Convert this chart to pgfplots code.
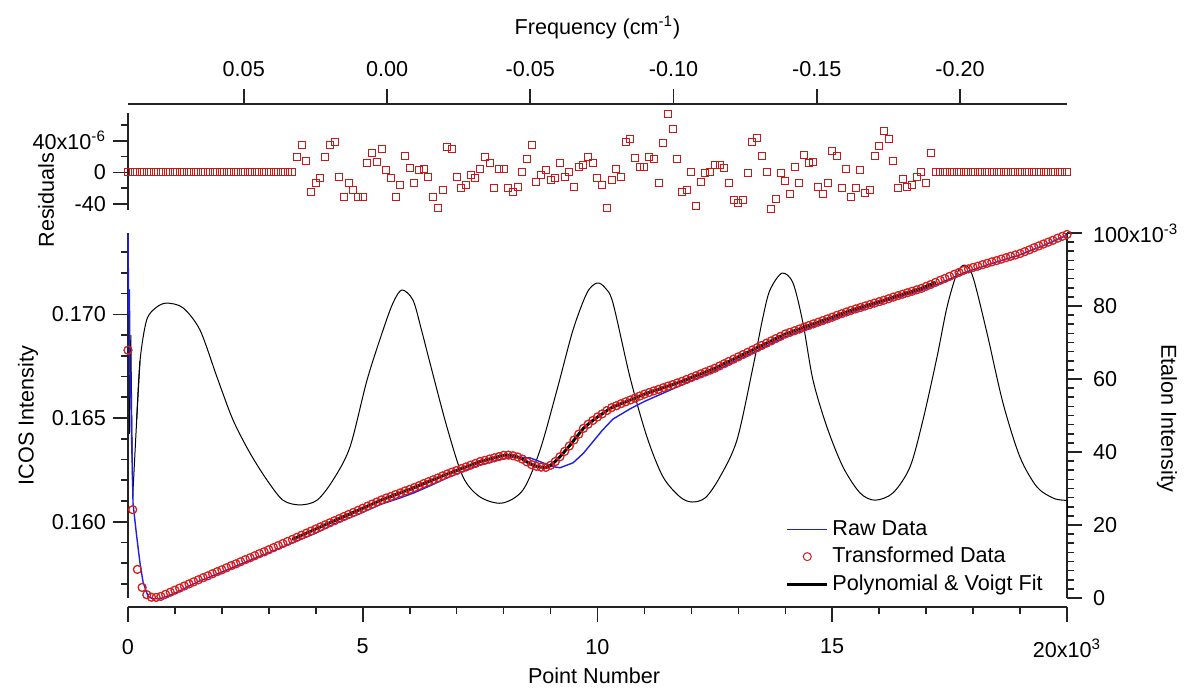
\documentclass[border=0pt]{standalone}
\usepackage{fontspec}
\setmainfont{Liberation Sans}
\usepackage{pgfplots}
\usepackage{pgfplotstable}
\pgfplotsset{compat=1.18}

\definecolor{rawblue}{RGB}{30,30,230}
\definecolor{transred}{RGB}{215,30,30}
\definecolor{resred}{RGB}{200,25,25}
\definecolor{axisgray}{RGB}{35,35,35}

% transformed ICOS data (point number, intensity)
\pgfplotstableread[row sep=\\]{
x y\\
0 0.16827\\ 100 0.16058\\ 200 0.15770\\ 300 0.15683\\ 400 0.15648\\ 500 0.15636\\
600 0.15635\\ 700 0.15640\\ 800 0.15650\\ 900 0.15660\\ 1000 0.15670\\ 1100 0.15680\\
1200 0.15690\\ 1300 0.15700\\ 1400 0.15710\\ 1500 0.15720\\ 1600 0.15730\\ 1700 0.15739\\
1800 0.15749\\ 1900 0.15759\\ 2000 0.15768\\ 2100 0.15778\\ 2200 0.15788\\ 2300 0.15797\\
2400 0.15807\\ 2500 0.15817\\ 2600 0.15826\\ 2700 0.15836\\ 2800 0.15846\\ 2900 0.15855\\
3000 0.15865\\ 3100 0.15875\\ 3200 0.15885\\ 3300 0.15895\\ 3400 0.15905\\ 3500 0.15915\\
3600 0.15925\\ 3700 0.15935\\ 3800 0.15945\\ 3900 0.15955\\ 4000 0.15965\\ 4100 0.15975\\
4200 0.15985\\ 4300 0.15995\\ 4400 0.16005\\ 4500 0.16015\\ 4600 0.16025\\ 4700 0.16035\\
4800 0.16045\\ 4900 0.16055\\ 5000 0.16065\\ 5100 0.16075\\ 5200 0.16085\\ 5300 0.16095\\
5400 0.16105\\ 5500 0.16114\\ 5600 0.16122\\ 5700 0.16131\\ 5800 0.16139\\ 5900 0.16148\\
6000 0.16156\\ 6100 0.16165\\ 6200 0.16174\\ 6300 0.16184\\ 6400 0.16193\\ 6500 0.16202\\
6600 0.16211\\ 6700 0.16221\\ 6800 0.16230\\ 6900 0.16239\\ 7000 0.16247\\ 7100 0.16256\\
7200 0.16264\\ 7300 0.16273\\ 7400 0.16281\\ 7500 0.16290\\ 7600 0.16296\\ 7700 0.16302\\
7800 0.16308\\ 7900 0.16314\\ 8000 0.16320\\ 8100 0.16321\\ 8200 0.16318\\ 8300 0.16312\\
8400 0.16302\\ 8500 0.16288\\ 8600 0.16275\\ 8700 0.16267\\ 8800 0.16263\\ 8900 0.16262\\
9000 0.16272\\ 9100 0.16290\\ 9200 0.16313\\ 9300 0.16339\\ 9400 0.16365\\ 9500 0.16394\\
9600 0.16422\\ 9700 0.16450\\ 9800 0.16470\\ 9900 0.16488\\ 10000 0.16505\\ 10100 0.16520\\
10200 0.16536\\ 10300 0.16550\\ 10400 0.16559\\ 10500 0.16569\\ 10600 0.16578\\ 10700 0.16587\\
10800 0.16596\\ 10900 0.16606\\ 11000 0.16615\\ 11100 0.16623\\ 11200 0.16631\\ 11300 0.16638\\
11400 0.16646\\ 11500 0.16654\\ 11600 0.16661\\ 11700 0.16669\\ 11800 0.16677\\ 11900 0.16686\\
12000 0.16695\\ 12100 0.16704\\ 12200 0.16713\\ 12300 0.16722\\ 12400 0.16731\\ 12500 0.16740\\
12600 0.16751\\ 12700 0.16762\\ 12800 0.16773\\ 12900 0.16784\\ 13000 0.16795\\ 13100 0.16806\\
13200 0.16817\\ 13300 0.16828\\ 13400 0.16839\\ 13500 0.16850\\ 13600 0.16861\\ 13700 0.16872\\
13800 0.16883\\ 13900 0.16894\\ 14000 0.16905\\ 14100 0.16913\\ 14200 0.16921\\ 14300 0.16929\\
14400 0.16938\\ 14500 0.16946\\ 14600 0.16954\\ 14700 0.16962\\ 14800 0.16970\\ 14900 0.16978\\
15000 0.16986\\ 15100 0.16995\\ 15200 0.17003\\ 15300 0.17011\\ 15400 0.17019\\ 15500 0.17026\\
15600 0.17033\\ 15700 0.17040\\ 15800 0.17047\\ 15900 0.17054\\ 16000 0.17061\\ 16100 0.17068\\
16200 0.17075\\ 16300 0.17083\\ 16400 0.17090\\ 16500 0.17097\\ 16600 0.17104\\ 16700 0.17111\\
16800 0.17118\\ 16900 0.17125\\ 17000 0.17135\\ 17100 0.17144\\ 17200 0.17154\\ 17300 0.17164\\
17400 0.17173\\ 17500 0.17183\\ 17600 0.17193\\ 17700 0.17202\\ 17800 0.17212\\ 17900 0.17219\\
18000 0.17226\\ 18100 0.17232\\ 18200 0.17239\\ 18300 0.17246\\ 18400 0.17253\\ 18500 0.17259\\
18600 0.17266\\ 18700 0.17273\\ 18800 0.17280\\ 18900 0.17286\\ 19000 0.17293\\ 19100 0.17302\\
19200 0.17311\\ 19300 0.17321\\ 19400 0.17330\\ 19500 0.17339\\ 19600 0.17348\\ 19700 0.17357\\
19800 0.17367\\ 19900 0.17376\\ 20000 0.17385\\
}\transformed

% residuals, in units of 1e-6
\pgfplotstableread[row sep=\\]{
x r\\
0 0\\ 100 0\\ 200 0\\ 300 0\\ 400 0\\ 500 0\\ 600 0\\ 700 0\\ 800 0\\ 900 0\\
1000 0\\ 1100 0\\ 1200 0\\ 1300 0\\ 1400 0\\ 1500 0\\ 1600 0\\ 1700 0\\ 1800 0\\ 1900 0\\
2000 0\\ 2100 0\\ 2200 0\\ 2300 0\\ 2400 0\\ 2500 0\\ 2600 0\\ 2700 0\\ 2800 0\\ 2900 0\\
3000 0\\ 3100 0\\ 3200 0\\ 3300 0\\ 3400 0\\ 3500 0\\
3600 19\\ 3700 34.5\\ 3800 14.7\\ 3900 -24.5\\ 4000 -14\\ 4100 -7.6\\ 4200 19\\ 4300 34.5\\
4400 38\\ 4500 -5.5\\ 4600 -31\\ 4700 -14\\ 4800 -22\\ 4900 -31\\ 5000 -31\\ 5100 12\\
5200 25\\ 5300 13.4\\ 5400 29.5\\ 5500 3\\ 5600 -7.6\\ 5700 -31\\ 5800 -16\\ 5900 21\\
6000 5\\ 6100 -14\\ 6200 3\\ 6300 4\\ 6400 -6.3\\ 6500 -31.6\\ 6600 -45.6\\ 6700 -22\\
6800 31.6\\ 6900 29.5\\ 7000 -6.3\\ 7100 -20\\ 7200 -16\\ 7300 -3.4\\ 7400 -7.6\\ 7500 4\\
7600 19\\ 7700 11.4\\ 7800 -20\\ 7900 4\\ 8000 4\\ 8100 -20\\ 8200 -24.5\\ 8300 -19\\
8400 1\\ 8500 16.8\\ 8600 34\\ 8700 -12\\ 8800 -3.4\\ 8900 3\\ 9000 -9.7\\ 9100 -7.6\\
9200 11.4\\ 9300 -5.5\\ 9400 1\\ 9500 -19\\ 9600 7\\ 9700 9\\ 9800 19\\ 9900 11.4\\
10000 -7.6\\ 10100 -16\\ 10200 -45.6\\ 10300 -9.7\\ 10400 4\\ 10500 -5.5\\ 10600 38\\ 10700 42\\
10800 17.7\\ 10900 7\\ 11000 7\\ 11100 19.7\\ 11200 16.8\\ 11300 -14\\ 11400 36.7\\ 11500 74\\
11600 54.8\\ 11700 16.8\\ 11800 -24.5\\ 11900 -22\\ 12000 1\\ 12100 -42\\ 12200 -12\\ 12300 -1.3\\
12400 1\\ 12500 9\\ 12600 9\\ 12700 5\\ 12800 -14\\ 12900 -35\\ 13000 -39\\ 13100 -35\\
13200 -1.3\\ 13300 38\\ 13400 44\\ 13500 21\\ 13600 1\\ 13700 -46\\ 13800 -34\\ 13900 -1.3\\
14000 -10.6\\ 14100 -27.5\\ 14200 6.3\\ 14300 -14\\ 14400 22\\ 14500 11.4\\ 14600 13.4\\ 14700 -19\\
14800 -27.5\\ 14900 -14\\ 15000 27.3\\ 15100 21\\ 15200 -20\\ 15300 4\\ 15400 -31\\ 15500 -20\\
15600 3\\ 15700 -26.6\\ 15800 -22\\ 15900 21\\ 16000 33.7\\ 16100 52.7\\ 16200 42\\ 16300 14.7\\
16400 -20\\ 16500 -8.5\\ 16600 -18\\ 16700 -16\\ 16800 -5.5\\ 16900 1\\ 17000 -14\\ 17100 24\\
17200 0\\ 17300 0\\ 17400 0\\ 17500 0\\ 17600 0\\ 17700 0\\ 17800 0\\ 17900 0\\ 18000 0\\
18100 0\\ 18200 0\\ 18300 0\\ 18400 0\\ 18500 0\\ 18600 0\\ 18700 0\\ 18800 0\\ 18900 0\\
19000 0\\ 19100 0\\ 19200 0\\ 19300 0\\ 19400 0\\ 19500 0\\ 19600 0\\ 19700 0\\ 19800 0\\
19900 0\\ 20000 0\\
}\residuals

\pgfplotsset{
  every axis/.append style={
    scale only axis, width=469.5pt,
    font=\fontsize{10.8}{13}\selectfont,
    axis line style={axisgray, line width=0.8pt},
    tick style={axisgray, line width=0.8pt},
    tick align=outside,
    major tick length=7.5pt, minor tick length=3.5pt,
    xmin=0, xmax=20000,
    scaled ticks=false,
  },
  fitline/.style={black, line width=1.3pt, restrict x to domain=3500:17200},
  transmarks/.style={only marks, mark=o, mark size=2pt, transred, mark options={line width=0.5pt}},
}

\begin{document}
\begin{tikzpicture}
\path[use as bounding box] (0,0) rectangle (595.5pt,-346.5pt);

% residuals panel
\begin{axis}[
  at={(64pt,-105pt)}, anchor=south west, height=48.5pt,
  ymin=-47.7, ymax=75.1, clip=false,
  hide x axis, axis y line*=left,
  ytick={-40,0,40}, yticklabels={-40,0,40x10\textsuperscript{-6}},
  minor ytick={-20,20,60},
  ylabel={Residuals},
  ylabel style={at={(axis description cs:-0.0873,0.103)}, anchor=center},
]
\addplot[only marks, mark=square, mark size=1.75pt, resred, mark options={line width=0.5pt}]
  table[x=x, y=r] {\residuals};
\end{axis}

% frequency axis on top
\begin{axis}[
  at={(64pt,-52pt)}, anchor=north west, height=1pt,
  x dir=reverse, xmin=-0.2373, xmax=0.0904, ymin=0, ymax=1,
  hide y axis, axis x line*=top,
  xtick={-0.2,-0.15,-0.1,-0.05,0,0.05},
  xticklabels={-0.20,-0.15,-0.10,-0.05,0.00,0.05},
  xticklabel style={yshift=2.5pt},
  xlabel={Frequency (cm\textsuperscript{-1})},
  xlabel style={at={(axis description cs:0.5,1)}, anchor=center, yshift=38pt},
]
\addplot[draw=none] coordinates {(0,0.5)};
\end{axis}

% point number axis at the bottom
\begin{axis}[
  at={(64pt,-303.5pt)}, anchor=south west, height=1pt, ymin=0, ymax=1,
  hide y axis, axis x line*=bottom,
  xtick={0,5000,10000,15000,20000},
  xticklabels={0,5,10,15,20x10\textsuperscript{3}},
  xticklabel style={yshift=-5pt},
  minor x tick num=4,
  xlabel={Point Number},
  xlabel style={at={(axis description cs:0.4963,0)}, anchor=center, yshift=-34.5pt},
]
\addplot[draw=none] coordinates {(0,0.5)};
\end{axis}

% etalon, right axis
\begin{axis}[
  at={(64pt,-299pt)}, anchor=south west, height=182.5pt,
  ymin=0, ymax=0.1, clip=false,
  hide x axis, axis y line*=right,
  ytick={0,0.02,0.04,0.06,0.08,0.1},
  yticklabels={0,20,40,60,80,100x10\textsuperscript{-3}},
  yticklabel style={xshift=2pt},
  minor y tick num=7,
  ylabel={Etalon Intensity},
  ylabel style={at={(axis description cs:1.1065,0.493)}, anchor=center, rotate=180},
]
\addplot[black, line width=0.5pt] coordinates {
  (0,0.0905) (30,0.045) (60,0.072) (100,0.0277) (185,0.0488) (256,0.0650)
};
\addplot[black, line width=0.5pt, smooth, tension=0.5] coordinates {
  (185,0.0488) (256,0.0650) (398,0.0762)
  (611,0.0797) (830,0.0808) (1172,0.0795) (1534,0.0734) (1896,0.0605) (2236,0.0488)
  (2599,0.0397) (2961,0.0323) (3301,0.0268) (3664,0.0255) (4026,0.0268) (4366,0.0323)
  (4729,0.0414) (5091,0.0597) (5432,0.0734) (5650,0.0810) (5836,0.0844) (6070,0.0816)
  (6250,0.0735) (6432,0.0644) (6794,0.0468) (7135,0.0332) (7497,0.0277) (7966,0.0260)
  (8413,0.0296) (8775,0.0405) (9137,0.0570) (9478,0.0734) (9776,0.0836) (9989,0.0863)
  (10160,0.0850) (10330,0.0808) (10692,0.0605) (11054,0.0441) (11395,0.0332) (11757,0.0277)
  (12013,0.0263) (12300,0.0275) (12609,0.0332) (12971,0.0433) (13312,0.0633) (13525,0.0770)
  (13674,0.0844) (13930,0.0890) (14164,0.0863) (14377,0.0753) (14590,0.0597) (14888,0.0468)
  (15229,0.0359) (15591,0.0288) (15910,0.0268) (16294,0.0288) (16656,0.0359) (16933,0.0488)
  (17231,0.0660) (17444,0.0797) (17657,0.0890) (17827,0.0912) (17998,0.0879) (18296,0.0726)
  (18637,0.0534) (18999,0.0386) (19361,0.0304) (19701,0.0274) (19914,0.0268) (20000,0.0268)
};
\addplot[black, line width=0.5pt] coordinates {(20000,0.0268) (20000,0.0222)};
\end{axis}

% ICOS data, left axis
\begin{axis}[
  at={(64pt,-299pt)}, anchor=south west, height=182.5pt,
  ymin=0.156321, ymax=0.17392, clip=false,
  hide x axis, axis y line*=left,
  ytick={0.160,0.165,0.170}, yticklabels={0.160,0.165,0.170},
  minor ytick={0.157,0.158,0.159,0.161,0.162,0.163,0.164,0.166,0.167,0.168,0.169,0.171,0.172,0.173},
  ylabel={ICOS Intensity},
  ylabel style={at={(axis description cs:-0.1065,0.5)}, anchor=center},
  legend style={draw=none, fill=none, at={(axis description cs:0.694,-0.011)}, anchor=south west,
    font=\fontsize{10.8}{13}\selectfont, row sep=0.5pt},
  legend cell align=left,
  reverse legend,
  legend image code/.code={\draw[mark repeat=2,mark phase=2,#1] plot coordinates {(0cm,0cm) (0.35cm,0cm) (0.7cm,0cm)};},
]
\addplot[fitline] table[x=x, y=y] {\transformed};
\addlegendentry{Polynomial \& Voigt Fit}
\addplot[transmarks] table[x=x, y=y] {\transformed};
\addlegendentry{Transformed Data}
\addplot[rawblue, line width=0.7pt] coordinates {
  (0,0.1739) (15,0.1700) (30,0.1712) (45,0.1660) (60,0.1672) (75,0.1640) (90,0.1628)
  (107,0.1609) (150,0.1600) (185,0.1593) (256,0.1580) (320,0.1571) (426,0.1564) (533,0.15628)
  (700,0.15630) (1000,0.15655) (1500,0.15712) (2000,0.15757) (2500,0.15805) (3000,0.15850)
  (3500,0.15898) (4000,0.15945) (4400,0.15990) (4900,0.16035) (5400,0.16085) (5800,0.16115)
  (6100,0.16140) (6500,0.16180) (6800,0.16212) (7200,0.16248) (7500,0.16274) (7900,0.16298)
  (8200,0.16312) (8560,0.16308) (8840,0.16284) (9000,0.16268) (9200,0.16260) (9480,0.16284)
  (9700,0.16330) (9900,0.16385) (10100,0.16440) (10330,0.16495) (10700,0.16545) (11000,0.16580)
  (11400,0.16620) (11800,0.16660) (12100,0.16690) (12500,0.16728) (12800,0.16760) (13400,0.16825)
  (14000,0.16892) (14700,0.16950) (15400,0.17008) (16100,0.17060) (16900,0.17115) (17400,0.17160)
  (17800,0.17200) (18400,0.17245) (19000,0.17287) (19500,0.17332) (20000,0.17382)
};
\addlegendentry{Raw Data}
% an empty first legend row, which shows nothing
\addlegendimage{empty legend}
\addlegendentry{}
% circles and fit drawn once more over the raw line
\addplot[transmarks, forget plot] table[x=x, y=y] {\transformed};
\addplot[fitline, forget plot] table[x=x, y=y] {\transformed};
\end{axis}
\end{tikzpicture}
\end{document}
